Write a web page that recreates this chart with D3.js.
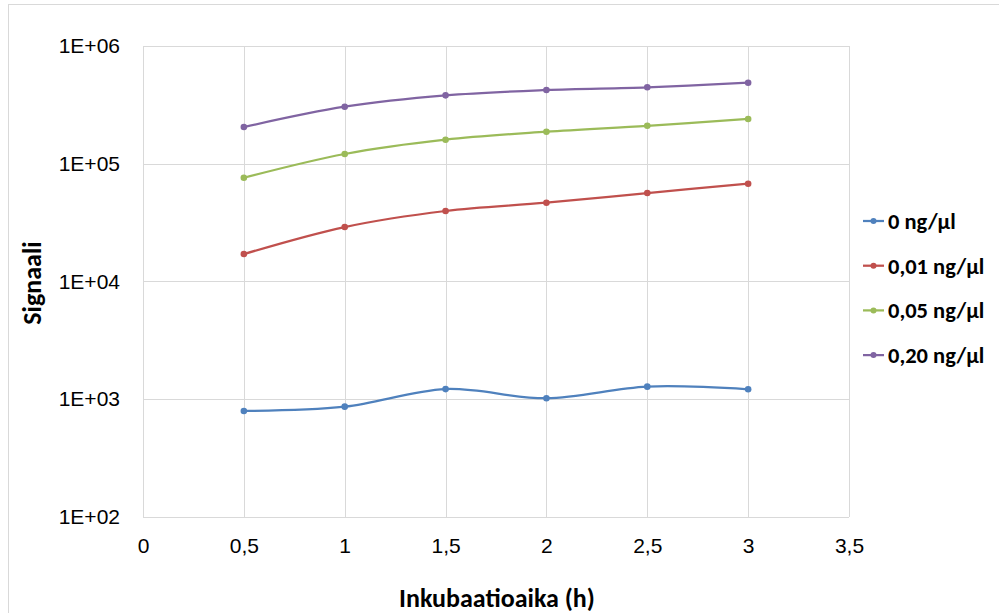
<!DOCTYPE html>
<html>
<head>
<meta charset="utf-8">
<script src="https://cdn.jsdelivr.net/npm/d3@7"></script>
<style>
  body { margin: 0; background: #fff; }
  svg { display: block; font-family: Carlito, Calibri, Lato, sans-serif; }
</style>
</head>
<body>
<div id="vis"></div>
<script>
const width = 999;
const height = 613;

// time points (h)
const hours = [0.5, 1, 1.5, 2, 2.5, 3];
const seriesNames = ['0 ng/µl', '0,01 ng/µl', '0,05 ng/µl', '0,20 ng/µl'];
const conc0 = [795, 865, 1220, 1020, 1280, 1215];
const conc001 = [17100, 29000, 39700, 46700, 56400, 67700];
const conc005 = [76000, 121000, 160000, 187000, 210000, 240000];
const conc020 = [205000, 305000, 381000, 423000, 446000, 488000];
const colors = ['#4F81BD', '#C0504D', '#9BBB59', '#8064A2'];
const xTicks = [0, 0.5, 1, 1.5, 2, 2.5, 3, 3.5];
const yTicks = [1e2, 1e3, 1e4, 1e5, 1e6];

const series = [conc0, conc001, conc005, conc020].map((vals, i) => ({
  name: seriesNames[i],
  color: colors[i],
  values: vals.map((v, j) => ({ x: hours[j], y: v }))
}));

const plot = { left: 143, top: 46, right: 849, bottom: 517 };

const x = d3.scaleLinear().domain([0, 3.5]).range([plot.left, plot.right]);
const y = d3.scaleLog().domain([1e2, 1e6]).range([plot.bottom, plot.top]);

const svg = d3.select('#vis').append('svg')
  .attr('width', width)
  .attr('height', height);

// chart frame
svg.append('rect')
  .attr('x', 8.5).attr('y', 4.5)
  .attr('width', width + 10).attr('height', height + 10)
  .attr('fill', '#fff')
  .attr('stroke', '#d9d9d9');

// gridlines
svg.append('g')
  .selectAll('line')
  .data(yTicks)
  .join('line')
  .attr('x1', plot.left).attr('x2', plot.right)
  .attr('y1', d => Math.round(y(d)) + 0.5).attr('y2', d => Math.round(y(d)) + 0.5)
  .attr('stroke', '#d9d9d9');
svg.append('g')
  .selectAll('line')
  .data(xTicks)
  .join('line')
  .attr('x1', d => Math.round(x(d)) + 0.5).attr('x2', d => Math.round(x(d)) + 0.5)
  .attr('y1', plot.top).attr('y2', plot.bottom)
  .attr('stroke', '#d9d9d9');

// axes
const fmtX = d => String(d).replace('.', ',');
const fmtY = d => '1E+' + String(Math.round(Math.log10(d))).padStart(2, '0');

const xAxis = svg.append('g')
  .attr('transform', `translate(0,${plot.bottom})`)
  .call(d3.axisBottom(x).tickValues(xTicks).tickFormat(fmtX).tickSize(0).tickPadding(21));
xAxis.select('.domain').remove();
xAxis.selectAll('text').attr('font-size', 21).attr('fill', '#000').attr('font-family', null);

const yAxis = svg.append('g')
  .attr('transform', `translate(${plot.left},0)`)
  .call(d3.axisLeft(y).tickValues(yTicks).tickFormat(fmtY).tickSize(0).tickPadding(23));
yAxis.select('.domain').remove();
yAxis.selectAll('text').attr('font-size', 21).attr('fill', '#000').attr('font-family', null);

// axis titles
svg.append('text')
  .attr('x', 497)
  .attr('y', 607)
  .attr('text-anchor', 'middle')
  .attr('font-size', 26)
  .attr('font-weight', 'bold')
  .text('Inkubaatioaika (h)');

svg.append('text')
  .attr('transform', 'translate(41,283) rotate(-90)')
  .attr('text-anchor', 'middle')
  .attr('font-size', 26)
  .attr('font-weight', 'bold')
  .text('Signaali');

// lines
const line = d3.line()
  .x(d => x(d.x))
  .y(d => y(d.y))
  .curve(d3.curveCatmullRom.alpha(0.5));

const g = svg.append('g');
series.forEach(s => {
  g.append('path')
    .datum(s.values)
    .attr('fill', 'none')
    .attr('stroke', s.color)
    .attr('stroke-width', 2.25)
    .attr('d', line);
  g.selectAll(null)
    .data(s.values)
    .join('circle')
    .attr('cx', d => x(d.x))
    .attr('cy', d => y(d.y))
    .attr('r', 3.3)
    .attr('fill', s.color);
});

// legend
const legend = svg.append('g')
  .selectAll('g')
  .data(series)
  .join('g')
  .attr('transform', (d, i) => `translate(863,${221 + i * 44.7})`);
legend.append('line')
  .attr('x1', 0).attr('x2', 21)
  .attr('stroke', d => d.color)
  .attr('stroke-width', 2.25);
legend.append('circle')
  .attr('cx', 10.5)
  .attr('r', 3)
  .attr('fill', d => d.color);
legend.append('text')
  .attr('x', 25)
  .attr('dy', '0.35em')
  .attr('font-size', 22.5)
  .attr('font-weight', 'bold')
  .text(d => d.name);
</script>
</body>
</html>
